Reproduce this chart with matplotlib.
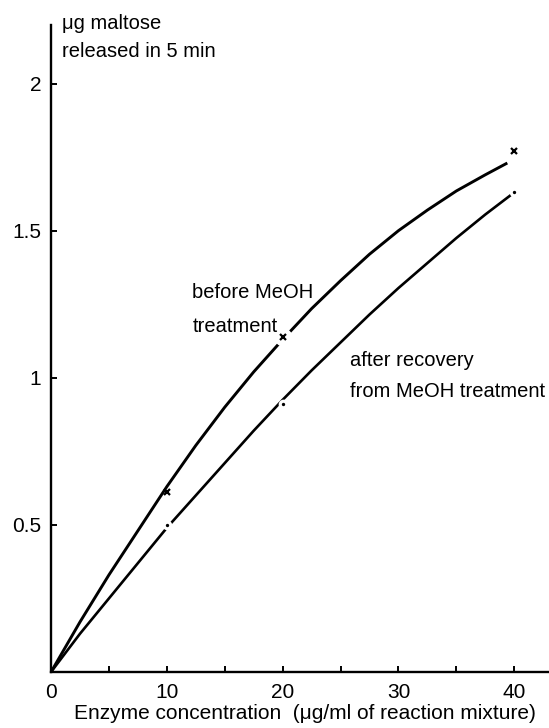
import matplotlib
matplotlib.use("Agg")
import matplotlib.pyplot as plt

plt.rcParams['font.family'] = ['Liberation Sans', 'DejaVu Sans']

# enzyme concentration (ug/ml) and maltose released (ug)
before_cx = [0, 2.5, 5, 7.5, 10, 12.5, 15, 17.5, 20, 22.5, 25, 27.5, 30, 32.5, 35, 37.5, 39.4]
before_cy = [0, 0.17, 0.33, 0.48, 0.63, 0.77, 0.90, 1.02, 1.13, 1.235, 1.33, 1.42, 1.50, 1.57, 1.635, 1.69, 1.73]
after_cx = [0, 2.5, 5, 7.5, 10, 12.5, 15, 17.5, 20, 22.5, 25, 27.5, 30, 32.5, 35, 37.5, 40]
after_cy = [0, 0.13, 0.25, 0.37, 0.49, 0.60, 0.71, 0.82, 0.925, 1.025, 1.12, 1.215, 1.305, 1.39, 1.475, 1.555, 1.63]

# measured points
before_x = [10, 20, 40]
before_y = [0.61, 1.14, 1.77]
after_x = [10, 20, 40]
after_y = [0.50, 0.91, 1.63]

xticks = [0, 10, 20, 30, 40]
yticks = [0.5, 1, 1.5, 2]
ytick_labels = ['0.5', '1', '1.5', '2']

fig = plt.figure(figsize=(5.49, 7.28), dpi=100)
ax = fig.add_axes([0.093, 0.077, 0.907, 0.889])

ax.plot(before_cx, before_cy, color='black', lw=2.1, solid_capstyle='butt', zorder=2)
ax.plot(after_cx, after_cy, color='black', lw=1.9, solid_capstyle='butt', zorder=2)

# gap in the before curve around the 20 ug point
ax.plot([before_x[1]], [before_y[1]], 'o', color='white', ms=13, mew=0, zorder=3)
ax.plot(before_x, before_y, 'x', color='black', ms=5, mew=1.6, zorder=4)

# after-recovery points sit in small breaks of the line
ax.plot(after_x, after_y, 'o', color='white', ms=7, mew=0, zorder=3)
ax.plot(after_x, after_y, 'o', color='black', ms=2.4, mew=0, zorder=4)

ax.set_xlim(0, 43)
ax.set_ylim(0, 2.2)
for s in ['top', 'right']:
    ax.spines[s].set_visible(False)
for s in ['left', 'bottom']:
    ax.spines[s].set_linewidth(1.7)

ax.set_xticks(range(0, 45, 5))
ax.set_xticklabels([str(t) if t in xticks else '' for t in range(0, 45, 5)])
ax.set_yticks(yticks)
ax.set_yticklabels(ytick_labels)
ax.tick_params(direction='in', length=4, width=1.4, labelsize=15)
ax.tick_params(axis='x', pad=8)
ax.tick_params(axis='y', pad=7)

fs = 14.5
ax.text(0.95, 2.205, 'μg maltose', fontsize=fs, va='center', ha='left', clip_on=False)
ax.text(0.95, 2.11, 'released in 5 min', fontsize=fs, va='center', ha='left', clip_on=False)

ax.text(12.2, 1.29, 'before MeOH', fontsize=fs, va='center', ha='left')
ax.text(12.2, 1.175, 'treatment', fontsize=fs, va='center', ha='left')
ax.text(25.8, 1.06, 'after recovery', fontsize=fs, va='center', ha='left')
ax.text(25.8, 0.955, 'from MeOH treatment', fontsize=fs, va='center', ha='left')

fig.text(0.555, 0.02, 'Enzyme concentration  (μg/ml of reaction mixture)',
         fontsize=15, ha='center', va='center')

fig.savefig('out.png', dpi=100)
